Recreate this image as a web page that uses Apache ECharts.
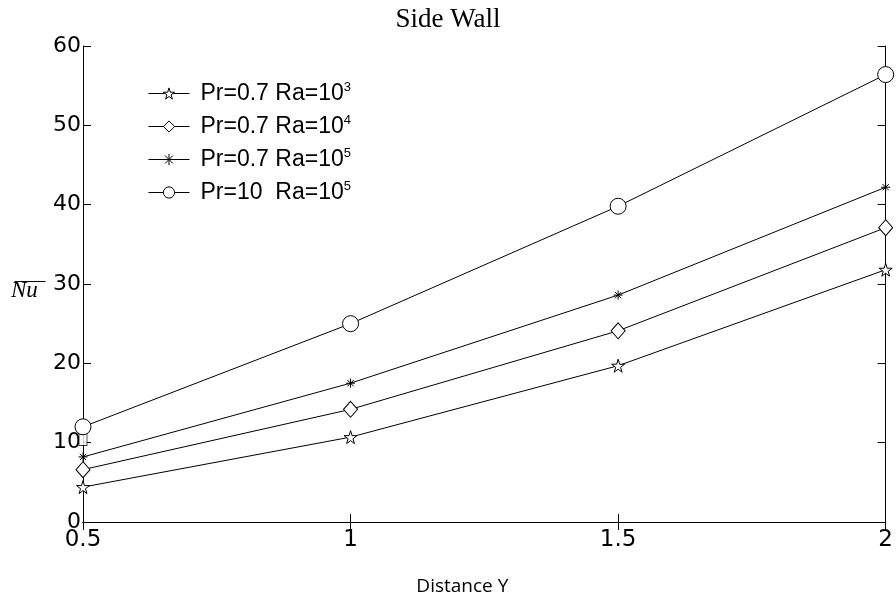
<!DOCTYPE html>
<html>
<head>
<meta charset="utf-8">
<title>Side Wall</title>
<script src="https://cdn.jsdelivr.net/npm/echarts@6/dist/echarts.min.js"></script>
<style>
  html, body { margin: 0; padding: 0; background: #fff; }
  #chart { width: 896px; height: 609px; }
</style>
</head>
<body>
<div id="chart"></div>
<script>
// 数据
var distanceY = [0.5, 1, 1.5, 2];
var xTicks = ['0.5', '1', '1.5', '2'];
var ra3 = [4.4, 10.7, 19.7, 31.8];     // Pr=0.7 Ra=10^3
var ra4 = [6.6, 14.2, 24.1, 37.1];     // Pr=0.7 Ra=10^4
var ra5 = [8.2, 17.5, 28.6, 42.2];     // Pr=0.7 Ra=10^5
var pr10 = [12.0, 25.0, 39.8, 56.4];   // Pr=10 Ra=10^5
var strayPoint = [[0.5, 10.4]];        // 左轴上的小方块
var seriesNames = ['Pr=0.7 Ra=10^3', 'Pr=0.7 Ra=10^4', 'Pr=0.7 Ra=10^5', 'Pr=10 Ra=10^5'];
var legendText = [
  '{t|Pr=0.7 Ra=10}{s|3}',
  '{t|Pr=0.7 Ra=10}{s|4}',
  '{t|Pr=0.7 Ra=10}{s|5}',
  '{t|Pr=10  Ra=10}{s|5}'
];

var starPath = 'path://M50,0 L61,35 L98,35 L68,57 L79,91 L50,70 L21,91 L32,57 L2,35 L39,35 Z';
var asteriskPath = 'path://M50,0 L50,100 M0,50 L100,50 M15,15 L85,85 M85,15 L15,85';

function pairs(ys) {
  return distanceY.map(function (x, i) { return [x, ys[i]]; });
}

function lineSeries(name, ys, symbol, size) {
  return {
    name: name,
    type: 'line',
    data: pairs(ys),
    symbol: symbol,
    symbolSize: size,
    showAllSymbol: true,
    lineStyle: { color: '#000', width: 1 },
    itemStyle: { color: '#fff', borderColor: '#000', borderWidth: 1 },
    emphasis: { disabled: true },
    z: 3
  };
}

var font = '"Liberation Sans", Arial, sans-serif';
var tickFont = '"DejaVu Sans", sans-serif';
var tickLen = 8;

var option = {
  animation: false,
  backgroundColor: '#fff',
  title: {
    text: 'Side Wall',
    left: 'center',
    top: 1,
    textStyle: { fontFamily: '"Liberation Serif", "Times New Roman", serif', fontWeight: 'normal', fontSize: 27, color: '#000' }
  },
  grid: { left: 83, right: 8, top: 46, bottom: 87 },
  legend: {
    orient: 'vertical',
    left: 143,
    top: 76,
    itemGap: 9,
    itemWidth: 41,
    itemHeight: 14,
    data: seriesNames,
    itemStyle: { color: '#fff', borderColor: '#000', borderWidth: 1 },
    lineStyle: { color: '#000', width: 1 },
    formatter: function (name) { return legendText[seriesNames.indexOf(name)]; },
    textStyle: {
      color: '#000',
      rich: {
        t: { fontFamily: font, fontSize: 23, color: '#000', padding: [0, 0, 0, 6] },
        s: { fontFamily: font, fontSize: 13, color: '#000', verticalAlign: 'top', padding: [0, 0, 12, 0] }
      }
    }
  },
  xAxis: [
    {
      type: 'value',
      min: 0.5,
      max: 2,
      interval: 0.5,
      name: 'Distance Y',
      nameLocation: 'middle',
      nameGap: 55,
      nameTextStyle: { fontFamily: '"Open Sans", "DejaVu Sans", sans-serif', fontSize: 19, color: '#000', padding: [0, 44, 0, 0] },
      axisLine: { lineStyle: { color: '#000', width: 1 } },
      axisTick: { inside: true, length: tickLen, lineStyle: { color: '#000' } },
      axisLabel: { color: '#000', fontFamily: tickFont, fontSize: 23, margin: 7, formatter: function (v) { return xTicks[distanceY.indexOf(v)] || ''; } },
      splitLine: { show: false }
    },
    {
      type: 'value',
      position: 'top',
      min: 0.5,
      max: 2,
      interval: 0.5,
      axisLine: { lineStyle: { color: '#000', width: 1 } },
      axisTick: { inside: true, length: tickLen, lineStyle: { color: '#000' } },
      axisLabel: { show: false },
      splitLine: { show: false }
    }
  ],
  yAxis: [
    {
      type: 'value',
      min: 0,
      max: 60,
      interval: 10,
      axisLine: { show: true, lineStyle: { color: '#000', width: 1 } },
      axisTick: { show: true, inside: true, length: tickLen, lineStyle: { color: '#000' } },
      axisLabel: { color: '#000', fontFamily: tickFont, fontSize: 22, margin: 2 },
      splitLine: { show: false }
    },
    {
      type: 'value',
      position: 'right',
      min: 0,
      max: 60,
      interval: 10,
      axisLine: { show: true, lineStyle: { color: '#000', width: 1 } },
      axisTick: { show: true, inside: true, length: tickLen, lineStyle: { color: '#000' } },
      axisLabel: { show: false },
      splitLine: { show: false }
    }
  ],
  graphic: [
    {
      type: 'text',
      left: 11,
      top: 279,
      style: { text: 'Nu', font: 'italic 23px "Liberation Serif", serif', fill: '#000' }
    },
    {
      type: 'line',
      left: 12,
      top: 279,
      shape: { x1: 0, y1: 0, x2: 31, y2: 0 },
      style: { stroke: '#000', lineWidth: 1 }
    }
  ],
  series: [
    lineSeries(seriesNames[0], ra3, starPath, 13),
    lineSeries(seriesNames[1], ra4, 'diamond', [14, 16]),
    lineSeries(seriesNames[2], ra5, asteriskPath, 9),
    lineSeries(seriesNames[3], pr10, 'circle', 16),
    {
      type: 'scatter',
      data: strayPoint,
      symbol: 'rect',
      symbolSize: [8, 12],
      itemStyle: { color: '#fff', borderColor: '#000', borderWidth: 1 },
      emphasis: { disabled: true },
      z: 2
    }
  ]
};

var myChart = echarts.init(document.getElementById('chart'));
myChart.setOption(option);
</script>
</body>
</html>
